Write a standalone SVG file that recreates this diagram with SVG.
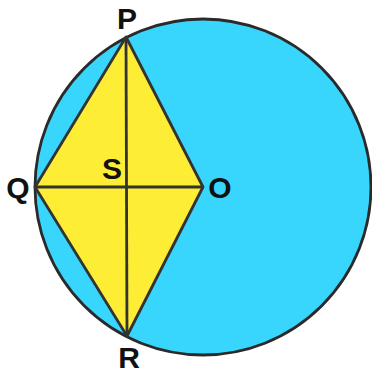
<svg xmlns="http://www.w3.org/2000/svg" width="372" height="373" viewBox="0 0 372 373">
<style>
.lbl{font-family:"Liberation Sans",Arial,sans-serif;font-weight:bold;font-size:30px;fill:#111;text-anchor:middle}
.ln{stroke:#333;stroke-width:2.8;fill:none}
</style>
<rect width="372" height="373" fill="#fff"/>
<g id="circle"><circle cx="203" cy="187" r="168" fill="#38d6fd" stroke="#2a2a2a" stroke-width="2.8"/></g>
<g id="rhombus"><polygon points="126,37 35,187 127,336 203,187" fill="#fdee35" stroke="#333" stroke-width="2.8" stroke-linejoin="round"/></g>
<g id="connectors">
<line class="ln" x1="126" y1="37" x2="127" y2="336"/>
<line class="ln" x1="35" y1="187" x2="203" y2="187"/>
</g>
<g id="labels">
<text class="lbl" x="127" y="29">P</text>
<text class="lbl" x="18" y="198">Q</text>
<text class="lbl" x="112" y="179">S</text>
<text class="lbl" x="220" y="198">O</text>
<text class="lbl" x="129" y="368">R</text>
</g>
</svg>
